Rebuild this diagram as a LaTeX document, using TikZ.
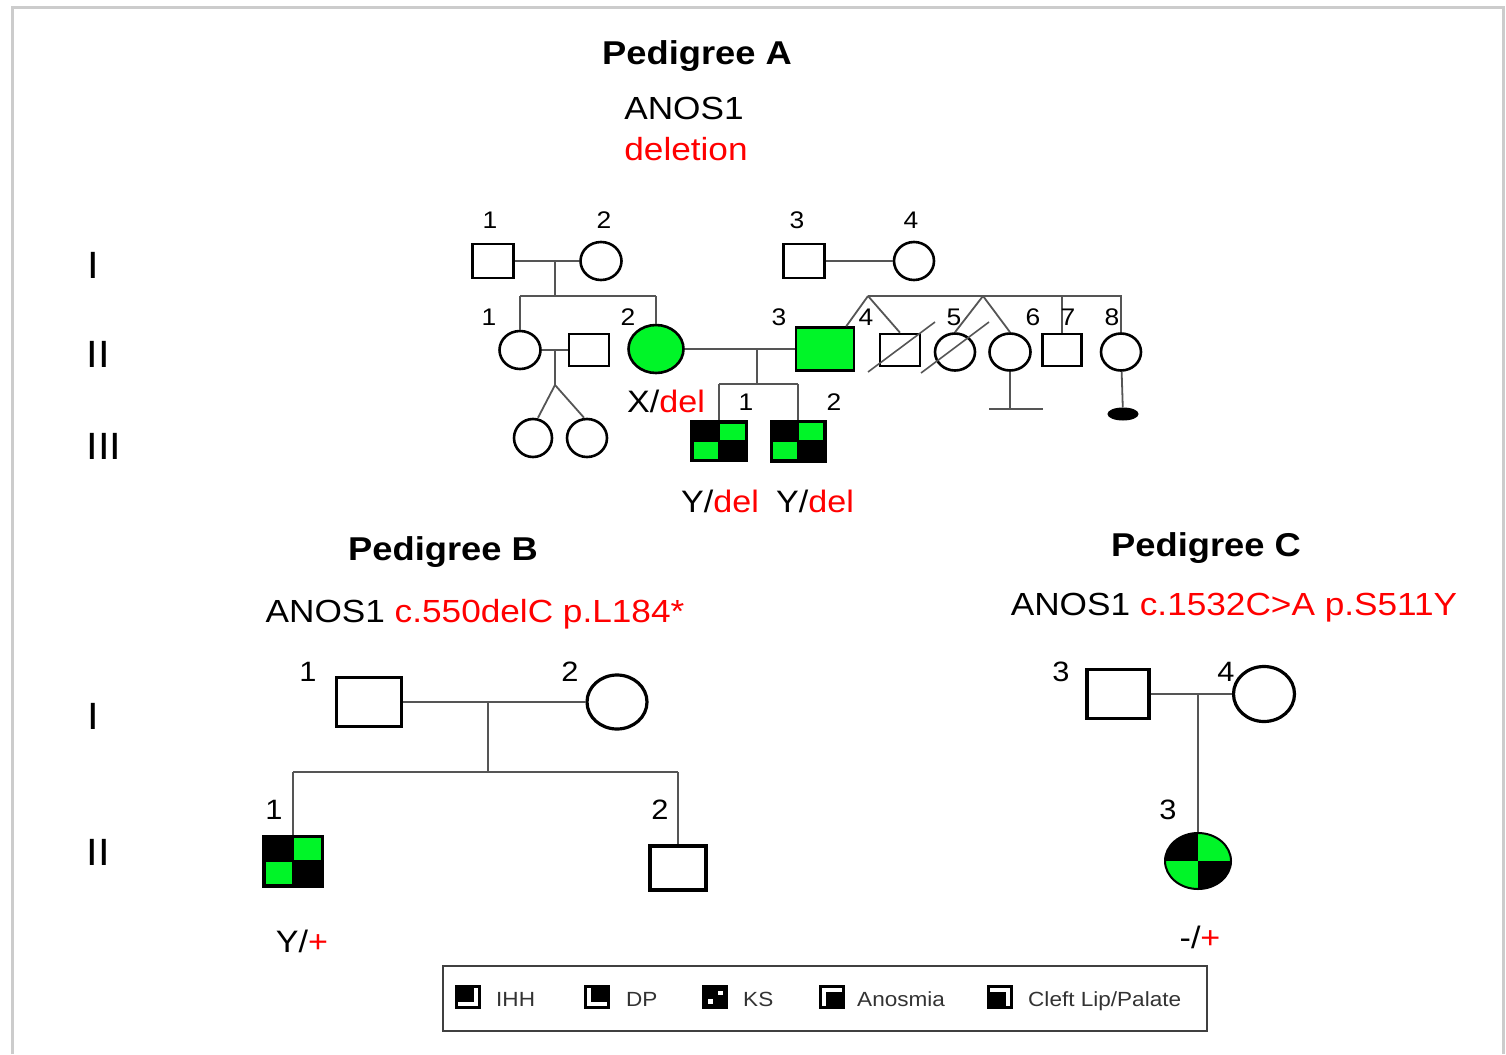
\documentclass[tikz,border=0pt]{standalone}
\usepackage{fontspec}
\setmainfont{Liberation Sans}[FakeStretch=1.1]
\usetikzlibrary{shapes.geometric}
\definecolor{pedgreen}{RGB}{0,245,40}
\definecolor{pedred}{RGB}{255,0,0}
\definecolor{linkgray}{RGB}{85,85,85}
\tikzset{
  sz/.style 2 args={minimum width=#1pt, minimum height=#2pt},
  legfill/.style n args={3}{path picture={\fill[black] (path picture bounding box.#1) rectangle ([#3]path picture bounding box.#2);}}
}

\begin{document}
\begin{tikzpicture}[x=1pt, y=-1pt,
  male/.style={draw, rectangle, line width=2.6pt, fill=white, inner sep=0pt},
  female/.style={draw, ellipse, line width=2.6pt, fill=white, inner sep=0pt},
  thickbc/.style={line width=3.2pt},
  ksbox/.style={draw, rectangle, line width=2pt, fill=black, inner sep=0pt,
    path picture={
      \fill[pedgreen] ([xshift=1pt,yshift=1pt]path picture bounding box.center) rectangle ([xshift=-2.5pt,yshift=-2.5pt]path picture bounding box.north east);
      \fill[pedgreen] ([xshift=-1pt,yshift=-1pt]path picture bounding box.center) rectangle ([xshift=2.5pt,yshift=2.5pt]path picture bounding box.south west);}},
  kspie/.style={draw, ellipse, line width=2pt, fill=black, inner sep=0pt,
    path picture={
      \fill[pedgreen] (path picture bounding box.center) rectangle (path picture bounding box.north east);
      \fill[pedgreen] (path picture bounding box.center) rectangle (path picture bounding box.south west);}},
  legicon/.style={draw, rectangle, line width=2.6pt, minimum width=23pt, minimum height=21pt, inner sep=0pt, fill=white},
  link/.style={draw=linkgray, line width=1.8pt},
  slash/.style={draw=linkgray, line width=1.6pt},
  title/.style={font=\fontsize{33}{38}\selectfont\bfseries, anchor=base, inner sep=0pt},
  gene/.style={font=\fontsize{32}{36}\selectfont, anchor=base, inner sep=0pt},
  geno/.style={font=\fontsize{31}{35}\selectfont, anchor=base, inner sep=0pt},
  num/.style={font=\fontsize{24}{28}\selectfont, inner sep=0pt},
  numbc/.style={font=\fontsize{28}{32}\selectfont, inner sep=0pt},
  gen/.style={font=\fontsize{38}{40}\selectfont, inner sep=0pt},
  legtext/.style={font=\fontsize{20.5}{24}\selectfont, text=black!80, anchor=base west, inner sep=0pt}]
\useasboundingbox (0,0) rectangle (1506,1054);
% frame
\draw[gray!40, line width=3pt] (12,1054) -- (12,8) -- (1503,8) -- (1503,1054);

% ---- Pedigree A ----
\node[title] (titleA) at (697,65) {Pedigree A};
\node[gene] (geneA) at (684,120) {ANOS1};
\node[gene, text=pedred] (mutA) at (686,160) {deletion};
\node[gen] (genAI) at (93,265) {I};
\node[gen] (genAII) at (98,354) {II};
\node[gen] (genAIII) at (104,446) {III};

\node[male, sz={41}{34}] (I1) at (493,261) {};
\node[female, sz={41}{38}] (I2) at (601,261) {};
\node[male, sz={41}{34}] (I3) at (804,261) {};
\node[female, sz={40}{38}] (I4) at (914,261) {};
\node[female, sz={41}{38}] (II1) at (520,350) {};
\node[male, sz={40}{32}] (IIsp) at (589,350) {};
\node[female, fill=pedgreen, sz={55}{48}] (II2) at (656,349) {};
\node[male, fill=pedgreen, sz={58}{43}] (II3) at (825,349) {};
\node[male, sz={40}{32}] (II4) at (900,350) {};
\node[female, sz={40}{37}] (II5) at (955,352) {};
\node[female, sz={41}{37}] (II6) at (1010,352) {};
\node[male, sz={39}{32}] (II7) at (1062,350) {};
\node[female, sz={40}{37}] (II8) at (1121,352) {};
\node[draw, ellipse, fill=black, line width=1pt, inner sep=0pt, sz={30}{12}] (preg) at (1123,414) {};
\node[female, sz={38}{38}] (IIIa) at (533,438) {};
\node[female, sz={40}{38}] (IIIb) at (587,438) {};
\node[ksbox, sz={56}{40}] (III1) at (719,441) {};
\node[ksbox, sz={55}{41}] (III2) at (798,441) {};

% marriages and sibships
\draw[link] (I1) -- (I2);
\draw[link] (I3) -- (I4);
\coordinate (mI12) at (555,261);
\coordinate (sI12) at (555,296);
\draw[link] (mI12) -- (sI12);
\draw[link] (II1 |- sI12) -- (II2 |- sI12);
\draw[link] (II1 |- sI12) -- (II1);
\draw[link] (II2 |- sI12) -- (II2);
\draw[link] (II1) -- (IIsp);
\coordinate (mII1) at (555,350);
\coordinate (twA) at (555,385);
\draw[link] (mII1) -- (twA) -- ([xshift=5pt]IIIa.north);
\draw[link] (twA) -- ([xshift=-3pt]IIIb.north);
\draw[link] (II2) -- (II3);
\coordinate (mII23) at (757,349);
\coordinate (sII23) at (757,384);
\draw[link] (mII23) -- (sII23);
\draw[link] (III1 |- sII23) -- (III2 |- sII23);
\draw[link] (III1 |- sII23) -- (III1);
\draw[link] (III2 |- sII23) -- (III2);
\coordinate (twB) at (868,296);
\coordinate (twC) at (983,296);
\draw[link] (twB) -- (II8 |- twB) -- (II8);
\draw[link] (twB) -- ([xshift=-9pt]II3.north east);
\draw[link] (twB) -- (II4.north);
\draw[link] (twC) -- (II5.north);
\draw[link] (twC) -- (II6.north);
\draw[link] (II7 |- twB) -- (II7);
\coordinate (noL) at (989,409);
\coordinate (noR) at (1043,409);
\draw[link] (II6) -- (II6 |- noL);
\draw[link] (noL) -- (noR);
\draw[link] (II8) -- (preg);
\draw[slash] ([shift={(-32,22)}]II4.center) -- ([shift={(35,-28)}]II4.center);
\draw[slash] ([shift={(-34,21)}]II5.center) -- ([shift={(34,-30)}]II5.center);

% numbers
\node[num] (nI1) at (490,220) {1};
\node[num] (nI2) at (604,220) {2};
\node[num] (nI3) at (797,220) {3};
\node[num] (nI4) at (911,220) {4};
\node[num] (nII1) at (489,317) {1};
\node[num] (nII2) at (628,317) {2};
\node[num] (nII3) at (779,317) {3};
\node[num] (nII4) at (866,317) {4};
\node[num] (nII5) at (954,317) {5};
\node[num] (nII6) at (1033,317) {6};
\node[num] (nII7) at (1068,317) {7};
\node[num] (nII8) at (1112,317) {8};
\node[num] (nIII1) at (746,402) {1};
\node[num] (nIII2) at (834,402) {2};

\node[geno] (gII2) at (666,412) {X/\textcolor{pedred}{del}};
\node[geno] (gIII1) at (720,512) {Y/\textcolor{pedred}{del}};
\node[geno] (gIII2) at (815,512) {Y/\textcolor{pedred}{del}};

% ---- Pedigree B ----
\node[title] (titleB) at (443,560) {Pedigree B};
\node[gene] (geneB) at (475,622) {ANOS1 \textcolor{pedred}{c.550delC p.L184*}};
\node[gen] (genBI) at (93,716) {I};
\node[gen] (genBII) at (98,852) {II};

\node[male, thickbc, sz={65}{49}] (BI1) at (369,702) {};
\node[female, thickbc, sz={60}{54}] (BI2) at (617,702) {};
\node[ksbox, sz={60}{51}] (BII1) at (293,861) {};
\node[male, thickbc, sz={56}{44}] (BII2) at (678,868) {};
\draw[link] (BI1) -- (BI2);
\coordinate (mB) at (488,702);
\coordinate (sB) at (488,772);
\draw[link] (mB) -- (sB);
\draw[link] (BII1 |- sB) -- (BII2 |- sB);
\draw[link] (BII1 |- sB) -- (BII1);
\draw[link] (BII2 |- sB) -- (BII2);

\node[numbc] (nBI1) at (308,672) {1};
\node[numbc] (nBI2) at (570,672) {2};
\node[numbc] (nBII1) at (274,810) {1};
\node[numbc] (nBII2) at (660,810) {2};
\node[geno] (gBII1) at (302,952) {Y/\textcolor{pedred}{+}};

% ---- Pedigree C ----
\node[title] (titleC) at (1206,556) {Pedigree C};
\node[gene] (geneC) at (1234,615) {ANOS1 \textcolor{pedred}{c.1532C>A p.S511Y}};

\node[male, thickbc, sz={62}{49}] (CI3) at (1118,694) {};
\node[female, thickbc, sz={61}{55}] (CI4) at (1264,694) {};
\node[kspie, sz={66}{56}] (CII3) at (1198,861) {};
\draw[link] (CI3) -- (CI4);
\coordinate (mC) at (1198,694);
\draw[link] (mC) -- (CII3);

\node[numbc] (nCI3) at (1061,672) {3};
\node[numbc] (nCI4) at (1226,672) {4};
\node[numbc] (nCII3) at (1168,810) {3};
\node[geno] (gCII3) at (1200,948) {-/\textcolor{pedred}{+}};

% ---- legend ----
\draw[black!75, line width=2pt] (443,966) rectangle (1207,1031);
\node[legicon, legfill={north west}{south east}{xshift=-5.5pt,yshift=5.5pt}] (icIHH) at (468,997) {};
\node[legicon, legfill={north east}{south west}{xshift=5.5pt,yshift=5.5pt}] (icDP) at (597,997) {};
\node[legicon, fill=black, path picture={
    \fill[white] ([xshift=3pt,yshift=2pt]path picture bounding box.center) rectangle ([xshift=-4pt,yshift=-4pt]path picture bounding box.north east);
    \fill[white] ([xshift=-2pt,yshift=-2pt]path picture bounding box.center) rectangle ([xshift=4pt,yshift=4pt]path picture bounding box.south west);}] (icKS) at (715,997) {};
\node[legicon, legfill={south east}{north west}{xshift=5.5pt,yshift=-5.5pt}] (icAn) at (832,997) {};
\node[legicon, legfill={south west}{north east}{xshift=-5.5pt,yshift=-5.5pt}] (icCL) at (1000,997) {};
\node[legtext] (tIHH) at (496,1006) {IHH};
\node[legtext] (tDP) at (626,1006) {DP};
\node[legtext] (tKS) at (743,1006) {KS};
\node[legtext] (tAn) at (857,1006) {Anosmia};
\node[legtext] (tCL) at (1028,1006) {Cleft Lip/Palate};
\end{tikzpicture}
\end{document}
